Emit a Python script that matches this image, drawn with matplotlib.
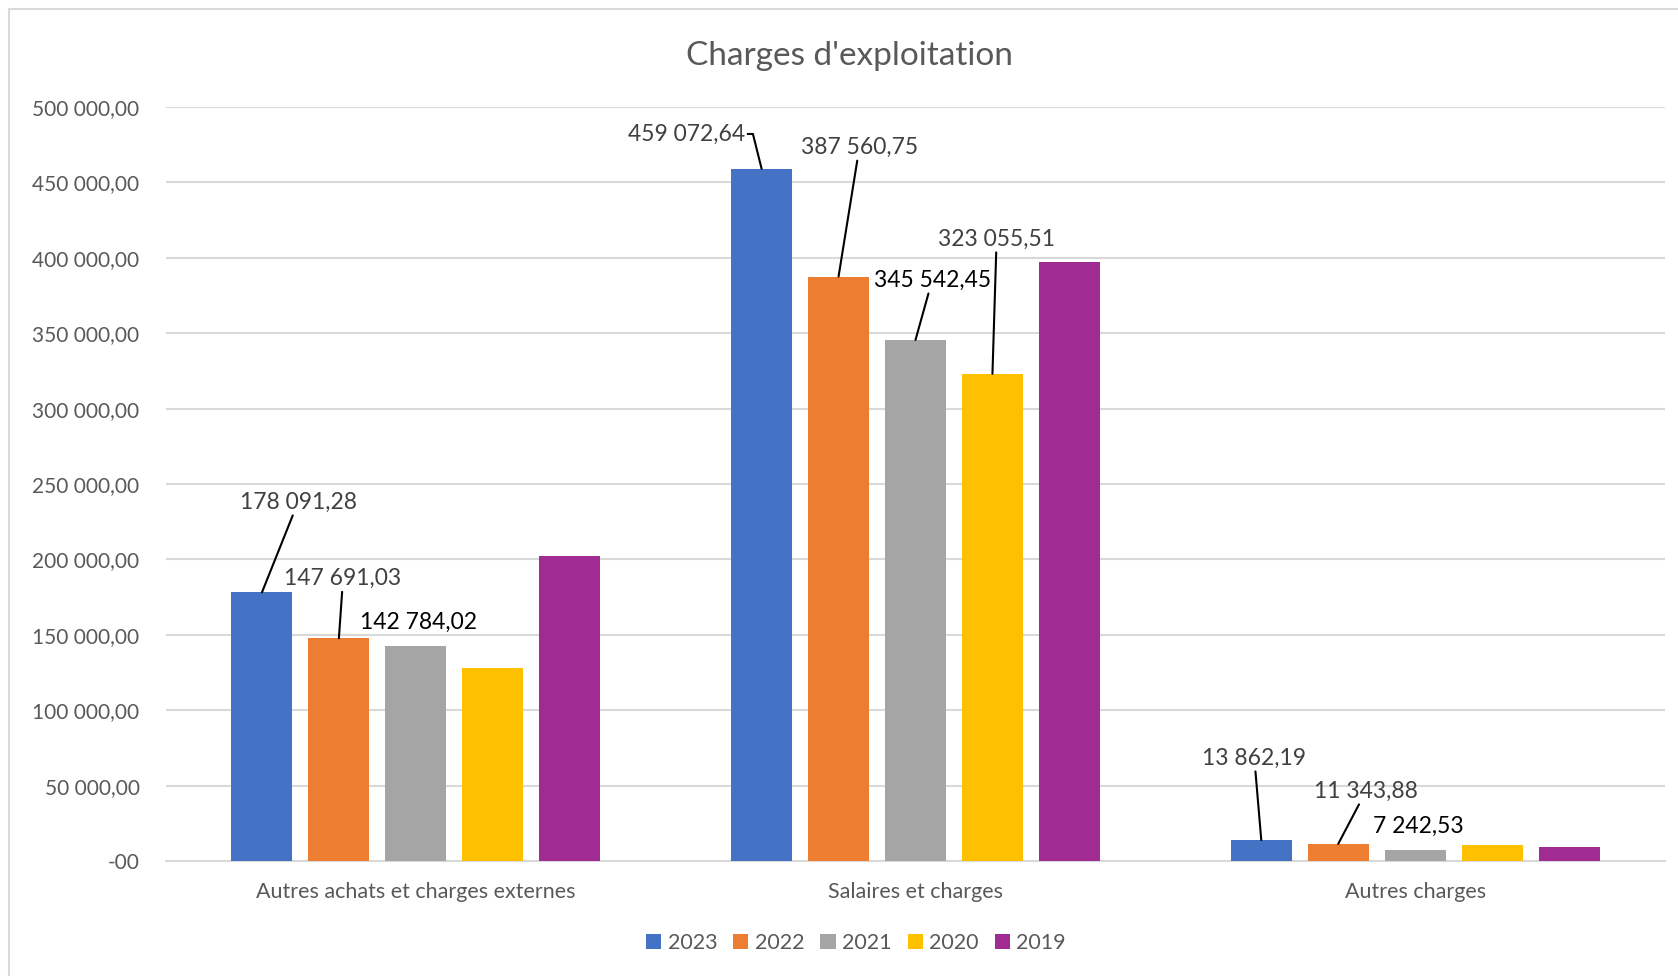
import numpy as np
import matplotlib
matplotlib.use("Agg")
import matplotlib.pyplot as plt
from matplotlib.patches import Rectangle
from matplotlib.ticker import FuncFormatter, MultipleLocator

# Chart data
categories = ["Autres achats et charges externes", "Salaires et charges", "Autres charges"]
years = ["2023", "2022", "2021", "2020", "2019"]
v2023 = [178091.28, 459072.64, 13862.19]
v2022 = [147691.03, 387560.75, 11343.88]
v2021 = [142784.02, 345542.45, 7242.53]
v2020 = [128000.00, 323055.51, 10300.00]
v2019 = [202000.00, 397000.00, 9600.00]
series = [v2023, v2022, v2021, v2020, v2019]
colors = ["#4472C4", "#ED7D31", "#A5A5A5", "#FFC000", "#A02B93"]

# Data labels: (series index, category index) -> (offset in points, leader line, text colour)
labels = {
    (0, 0): ((26, 65), True, "#404040"),
    (1, 0): ((3, 43), True, "#404040"),
    (2, 0): ((2, 17), False, "#000000"),
    (0, 1): ((-12, 25), "stub", "#404040"),
    (1, 1): ((15, 93), True, "#404040"),
    (2, 1): ((12, 43), True, "#000000"),
    (3, 1): ((3, 97), True, "#404040"),
    (0, 2): ((-5, 59), True, "#404040"),
    (1, 2): ((20, 38), True, "#404040"),
    (2, 2): ((2, 17), False, "#000000"),
}

plt.rcParams['font.family'] = ['Lato', 'DejaVu Sans']


def fr(v, pos=None):
    if v == 0:
        return "-00"
    return "{:,.2f}".format(v).replace(",", " ").replace(".", ",")


fig = plt.figure(figsize=(16.78, 9.76), dpi=100)
ax = fig.add_axes([166 / 1678, 1 - 861 / 976, (1665 - 166) / 1678, (861 - 107) / 976])

# chart border
fig.patches.append(Rectangle((9 / 1678, -0.1), 1.2, 1 - 9 / 976 + 0.1, transform=fig.transFigure,
                             fill=False, edgecolor="#D9D9D9", linewidth=1.5))

x = np.arange(len(categories))
step = 0.154
width = 0.122
for i, (vals, c) in enumerate(zip(series, colors)):
    pos = x + (i - 2) * step
    ax.bar(pos, vals, width, color=c, label=years[i], zorder=3)
    for j, v in enumerate(vals):
        if (i, j) not in labels:
            continue
        off, line, tc = labels[(i, j)]
        kw = dict(xy=(pos[j], v), xytext=off, textcoords="offset points",
                  fontsize=16.5, color=tc, va="center", ha="center", zorder=5)
        if line == "stub":
            kw["ha"] = "right"
            kw["arrowprops"] = dict(arrowstyle="-", color="black", lw=1.5, relpos=(1, 0.5),
                                    shrinkA=0, shrinkB=0,
                                    connectionstyle="arc,angleA=0,angleB=90,armA=8,armB=0,rad=0")
        elif line:
            kw["arrowprops"] = dict(arrowstyle="-", color="black", lw=1.5, shrinkA=0, shrinkB=0)
        ax.annotate(fr(v), **kw)

ax.set_xlim(-0.5, 2.5)
ax.set_ylim(0, 500000)
ax.yaxis.set_major_locator(MultipleLocator(50000))
ax.yaxis.set_major_formatter(FuncFormatter(fr))
ax.grid(axis="y", color="#D9D9D9", linewidth=1.5, zorder=0)
ax.set_xticks(x)
ax.set_xticklabels(categories)
ax.tick_params(axis="y", length=0, pad=19, labelsize=15, labelcolor="#595959")
ax.tick_params(axis="x", length=0, pad=15, labelsize=15.5, labelcolor="#595959")
for s in ["top", "right", "left"]:
    ax.spines[s].set_visible(False)
ax.spines["bottom"].set_color("#D9D9D9")
ax.spines["bottom"].set_linewidth(1.5)

fig.text(849 / 1678, 1 - 56 / 976, "Charges d'exploitation", ha="center", va="center",
         fontsize=24, color="#595959")

fig.legend(loc="center", bbox_to_anchor=(856 / 1678, 1 - 943 / 976), ncol=5, frameon=False,
           fontsize=15.5, labelcolor="#595959", handlelength=0.7, handleheight=0.7,
           handletextpad=0.3, columnspacing=0.75)

fig.savefig("out.png", dpi=100)
